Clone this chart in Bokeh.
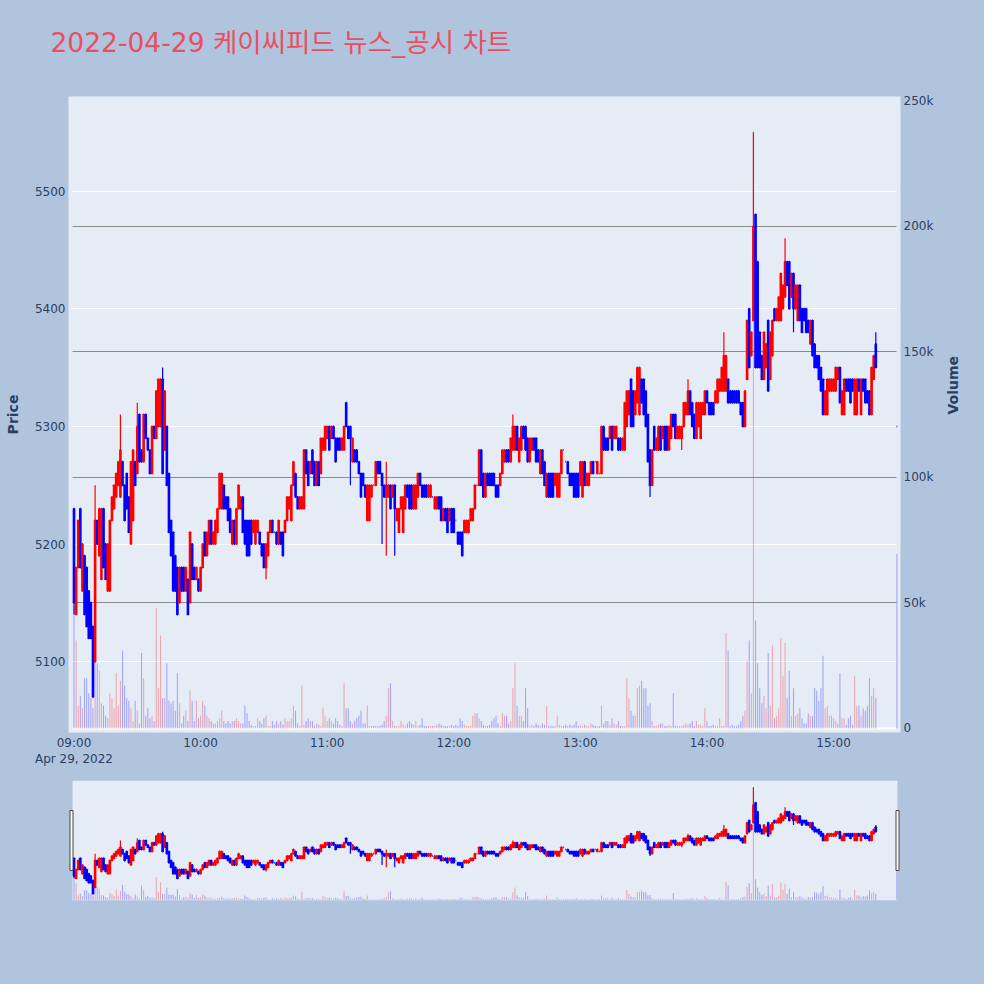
import math
from datetime import datetime, timedelta
from bokeh.plotting import figure
from bokeh.models import (Range1d, LinearAxis, FixedTicker, DatetimeTickFormatter, Title,
                          CustomJSTickFormatter, Grid, BoxAnnotation, ColumnDataSource)
from bokeh.layouts import column
from bokeh.embed import file_html
from bokeh.resources import INLINE

# ---------------- data ----------------
TITLE = "2022-04-29 케이씨피드 뉴스_공시 차트"
SESSION_START = datetime(2022, 4, 29, 9, 0)
CLOSE_AUCTION = datetime(2022, 4, 29, 15, 30)

# one-minute candles 09:00 .. 15:20 (open / close), split in blocks
open_a = [5230,5140,5180,5230,5160,5190,5180,5160,5150,5130, 5100,5220,5190,5170,5230,5200,5160,5160,5220,5230,
          5240,5250,5240,5270,5250,5260,5240,5200,5220,5270, 5260,5310,5280,5270,5310,5290,5280,5260,5300,5290,
          5300,5300,5340,5280,5300,5260,5220,5210,5190,5180, 5150,5180,5180,5160,5170,5150,5200,5180,5170,5170,
          5160,5180,5210,5190]
close_a = [5150,5180,5220,5180,5200,5140,5130,5120,5120,5070, 5220,5200,5230,5230,5180,5170,5200,5220,5240,5250,
           5260,5270,5280,5250,5220,5230,5210,5270,5280,5250, 5300,5270,5270,5310,5290,5280,5260,5300,5290,5330,
           5340,5340,5260,5330,5250,5210,5190,5160,5160,5140, 5180,5160,5160,5180,5140,5210,5170,5170,5180,5160,
           5180,5200,5190,5210]
open_b = [5200,5220,5200,5200,5210,5230,5230,5250,5240,5240, 5230,5200,5220,5200,5230,5230,5240,5220,5220,5220,
          5220,5210,5200,5210,5210,5200,5200,5180,5190,5210, 5220,5210,5210,5200,5210,5210,5210,5220,5230,5220,
          5250,5260,5240,5230,5230,5230,5280,5270,5260,5280, 5270,5250,5270,5260,5280,5280,5290,5300,5290,5300,
          5290,5290,5290,5280,5280,5320]
close_b = [5220,5200,5210,5220,5230,5260,5260,5230,5230,5220, 5210,5220,5200,5230,5250,5240,5210,5200,5190,5190,
           5200,5220,5220,5220,5200,5190,5180,5200,5210,5220, 5210,5210,5200,5220,5200,5190,5220,5240,5240,5250,
           5270,5240,5230,5240,5240,5280,5260,5250,5270,5260, 5250,5270,5250,5290,5290,5300,5300,5280,5300,5290,
           5270,5280,5280,5290,5300,5300]
open_c = [5300,5300,5270,5280,5280,5270,5260,5260,5250,5220, 5220,5240,5250,5250,5270,5270,5260,5250,5240,5240,
          5250,5240,5250,5220,5210,5230,5210,5230,5250,5250, 5250,5230,5230,5240,5260,5250,5250,5250,5240,5240,
          5240,5230,5230,5240,5240,5220,5230,5230,5220,5230, 5230,5220,5210,5210,5210,5210,5210,5210,5220,5220,
          5230,5250,5250,5280,5260,5240]
close_c = [5290,5290,5290,5270,5270,5260,5240,5250,5240,5250, 5250,5250,5250,5270,5260,5260,5250,5240,5250,5250,
           5230,5250,5230,5230,5230,5240,5240,5250,5240,5230, 5230,5250,5250,5260,5250,5240,5240,5240,5250,5250,
           5240,5240,5240,5230,5220,5230,5220,5210,5230,5210, 5210,5220,5200,5200,5190,5220,5220,5220,5230,5230,
           5250,5250,5280,5250,5240,5260]
open_d = [5260,5260,5260,5260,5250,5250,5250,5260,5270,5280, 5280,5270,5280,5280,5300,5270,5280,5300,5300,5290,
          5270,5280,5290,5290,5280,5260,5280,5270,5240,5260, 5260,5260,5250,5240,5240,5260,5280,5270,5270,5260,
          5260,5260,5260,5260,5250,5240,5270,5250,5250,5260, 5270,5270,5260,5260,5260,5300,5290,5290,5290,5300,
          5290,5290,5290,5290,5280,5280,5300]
close_d = [5250,5250,5250,5250,5240,5240,5260,5280,5280,5270, 5270,5290,5300,5300,5280,5290,5300,5290,5280,5270,
           5290,5290,5280,5270,5270,5280,5260,5250,5260,5240, 5240,5240,5260,5260,5260,5280,5280,5270,5260,5250,
           5250,5240,5240,5240,5270,5270,5250,5260,5260,5270, 5260,5270,5270,5260,5300,5280,5280,5280,5300,5280,
           5300,5300,5280,5280,5290,5320,5330]
open_e = [5310,5340,5330,5310,5320,5310,5340,5340,5330,5310, 5280,5250,5300,5280,5280,5300,5290,5300,5300,5280,
          5290,5310,5310,5290,5290,5290,5300,5310,5310,5330, 5320,5310,5290,5300,5290,5310,5310,5330,5320,5320,
          5320,5320,5320,5330,5330,5330,5330,5340,5330,5330, 5330,5330,5330,5320,5320,5300,5340,5400,5360,5390,
          5480,5440,5380,5360,5340,5350,5390]
close_e = [5330,5300,5300,5330,5350,5350,5320,5310,5300,5270, 5250,5280,5280,5290,5300,5280,5300,5280,5280,5300,
           5310,5300,5290,5300,5300,5300,5320,5320,5330,5310, 5300,5290,5320,5320,5320,5320,5330,5320,5310,5310,
           5310,5330,5340,5340,5350,5360,5360,5320,5320,5320, 5320,5320,5320,5310,5300,5330,5390,5350,5380,5470,
           5350,5350,5350,5340,5380,5370,5330]
open_f = [5340,5360,5400,5390,5390,5390,5400,5410,5440,5440, 5410,5430,5400,5390,5420,5400,5400,5400,5390,5370,
          5390,5370,5360,5360,5350,5340,5310,5310,5330,5330, 5330,5330,5340,5350,5310,5310,5340,5340,5340,5340,
          5310,5310,5340,5310,5340,5340,5330,5330,5310,5340, 5370]
close_f = [5380,5390,5390,5400,5410,5430,5420,5440,5420,5400, 5430,5400,5420,5420,5390,5380,5390,5380,5380,5390,
           5360,5350,5350,5340,5330,5310,5330,5340,5340,5340, 5340,5350,5350,5320,5330,5340,5330,5330,5320,5330,
           5340,5340,5330,5340,5330,5320,5320,5310,5350,5360, 5350]
# 15:30 closing auction
auction_price = 5300
auction_volume_k = 69.5

# wick extremes beyond the candle body (minute -> price)
wick_high = {"09:10": 5250, "09:22": 5310, "09:30": 5320, "09:42": 5350, "11:28": 5270,
             "12:28": 5310, "13:51": 5340, "14:08": 5380, "14:22": 5550, "14:37": 5460, "15:20": 5380}
wick_low = {"09:00": 5140, "10:31": 5170, "11:11": 5250, "11:26": 5200, "11:28": 5190,
            "11:32": 5190, "13:33": 5240, "13:48": 5280, "14:41": 5380}

# volume (thousand shares) per minute
volume_a = [49,35,9,13,8,20,20,14,12,8, 27,26,23,10,9,5,4,14,12,8, 22,9,19,31,17,12,11,8,3,11,
            7,2,30,20,5,8,4,5,3,48, 16,37,12,12,26,11,10,11,7,22, 10,2,5,7,3,15,11,3,11,4, 5,11,9,5]
volume_b = [4,3,2,2,3,4,7,3,2,3, 2,3,3,4,3,2,2,9,6,3, 1.5,1,1,4,3,2,4,5,1,1, 3,1.5,3,2,3,1.5,4,3,3,4,
            9,7,2,1,17,1.5,3,4,3,3, 1,2,1.5,1,8,5,3,4,3,2, 4,3,1.5,1,18,8]
volume_c = [8,3,2,3,4,5,7,2,2,9, 1,1,1,1,1,1,1.5,3,5,16, 18,3,1,1,1,3,1.5,1,2,3, 2,1.5,3,1,1.5,4,1,1,1,1,
            1,1,1.5,2,1.5,1,1,1,1,1.5, 1,1.5,1,4,3,1.5,1,1,1,5, 6,6,4,3,1.5,1]
volume_d = [1,1.5,3,4,5,2,1,6,5,5, 2,3,16,26,9,5,5,3,16,8, 1,1.5,1,2,1.5,1,2,1.5,9,1, 1,1,1,5,1.5,1,1,1.5,1,1.5,
            1,1.5,3,1,1.5,1,1.5,1,1,2, 1.5,1,1,1,9,2,3,3,1.5,4, 2,1.5,3,1,1,1,20]
volume_e = [12,7,5,5,16,17,19,16,16,9, 10,3,1,1,1.5,2,2,1,1,1.5, 1,14,1,1,1,1,1.5,2,1.5,2, 3,1,3,1.5,1.5,1,8,3,1,1,
            1.5,1,1,4,1,1,38,31,1,1.5, 1,1,1.5,3,5,7, 27,35,14,238,43,26,16,10,13,8,30]
volume_f = [9,33,4,5,8,36,21,34,12,23, 5,16,5,6,8,4,2,2,6,5, 5,16,15,11,16,29,8,9,5,5, 4,3,2,22,4,4,1.5,4,5,1.5,
            21,9,9,5,8,7,9,20,13,16, 12]

price_ticks = [5100, 5200, 5300, 5400, 5500]
volume_ticks_k = [0, 50, 100, 150, 200, 250]
hour_ticks = ["09:00", "10:00", "11:00", "12:00", "13:00", "14:00", "15:00"]

# ---------------- assemble ----------------
opens = open_a + open_b + open_c + open_d + open_e + open_f + [auction_price]
closes = close_a + close_b + close_c + close_d + close_e + close_f + [auction_price]
vols = volume_a + volume_b + volume_c + volume_d + volume_e + volume_f + [auction_volume_k]
n_min = len(open_a + open_b + open_c + open_d + open_e + open_f)
times = [SESSION_START + timedelta(minutes=i) for i in range(n_min)] + [CLOSE_AUCTION]
labels = [t.strftime("%H:%M") for t in times]
highs = [max(o, c, wick_high.get(l, 0)) for o, c, l in zip(opens, closes, labels)]
lows = [min(o, c, wick_low.get(l, 10 ** 9)) for o, c, l in zip(opens, closes, labels)]
UP, DOWN = "#ff0000", "#0000ff"
colors = [UP if c > o else DOWN for o, c in zip(opens, closes)]

src = ColumnDataSource(dict(x=times, o=opens, c=closes, hi=highs, lo=lows,
                            top=[max(o, c) for o, c in zip(opens, closes)],
                            bot=[min(o, c) for o, c in zip(opens, closes)],
                            vol=vols, color=colors))

# ---------------- geometry / style ----------------
PAGE_BG = "#b0c4de"
PLOT_BG = "#e5ecf6"
TXT = "#2a3f5f"
FONT = "DejaVu Sans"
MIN_MS = 60000.0

def epoch_ms(d):
    return (d - datetime(1970, 1, 1)).total_seconds() * 1000.0

def t_of_px(px):  # canvas x -> datetime (09:00 at x=73.5, 2.11 px per minute)
    return SESSION_START + timedelta(minutes=(px - 73.5) / 2.11)

PRICE_LO, PRICE_HI = 5039.8, 5580.4
VOL_LO, VOL_HI = -1.63, 251.8

x_range = Range1d(t_of_px(68), t_of_px(900))


def draw_series(fig):
    fig.vbar(x="x", width=0.5 * MIN_MS, top="vol", bottom=0, y_range_name="vol",
             fill_color="color", fill_alpha=0.3, line_color=None, source=src)
    fig.segment(x0="x", y0="lo", x1="x", y1="hi", line_color="color", line_width=1.2, source=src)
    fig.vbar(x="x", width=0.3 * MIN_MS, top="top", bottom="bot", fill_color="color",
             line_color="color", line_width=2, source=src)


# ---------------- main chart ----------------
p = figure(width=984, height=772, x_range=x_range, y_range=Range1d(PRICE_LO, PRICE_HI),
           x_axis_type="datetime", output_backend="svg", toolbar_location=None,
           min_border_left=68, min_border_right=84, min_border_top=96, min_border_bottom=40,
           background_fill_color=PLOT_BG, border_fill_color=PAGE_BG, outline_line_color=None)
p.extra_y_ranges = {"vol": Range1d(VOL_LO, VOL_HI)}

# title: a blank spacer next to the frame, then the chart title above it
p.title.text = ""
p.add_layout(Title(text=" ", text_font_size="10px", standoff=21), "above")
p.add_layout(Title(text=TITLE, text_font="'DejaVu Sans', 'Noto Sans CJK KR', sans-serif",
                   text_font_size="26.5px", text_font_style="normal", text_color="#e85060",
                   align="left", vertical_align="bottom", offset=-18, standoff=10), "above")

cross = (epoch_ms(t_of_px(72)), epoch_ms(t_of_px(896)))
p.xgrid.visible = False
p.ygrid.ticker = FixedTicker(ticks=price_ticks)
p.ygrid.grid_line_color = "white"
p.ygrid.grid_line_width = 1
vgrid = Grid(dimension=1, y_range_name="vol", ticker=FixedTicker(ticks=[50, 100, 150, 200]),
             grid_line_color="#8c8c8c", grid_line_width=1)
zgrid = Grid(dimension=1, y_range_name="vol", ticker=FixedTicker(ticks=[0]),
             grid_line_color="white", grid_line_width=2)
p.add_layout(vgrid)
p.add_layout(zgrid)
for g in (p.ygrid[0], vgrid, zgrid):
    try:
        g.cross_bounds = cross
    except Exception:
        pass

draw_series(p)

hour_ms = [epoch_ms(datetime.strptime("2022-04-29 " + h, "%Y-%m-%d %H:%M")) for h in hour_ticks]
p.xaxis.ticker = FixedTicker(ticks=hour_ms)
p.xaxis.formatter = DatetimeTickFormatter(hours="%H:%M", hourmin="%H:%M", minutes="%H:%M",
                                          minsec="%H:%M", context="%b %d, %Y",
                                          context_which="start", context_location="below")
p.yaxis.ticker = FixedTicker(ticks=price_ticks)
p.yaxis.axis_label = "Price"

ax_r = LinearAxis(y_range_name="vol", ticker=FixedTicker(ticks=volume_ticks_k),
                  formatter=CustomJSTickFormatter(code="return tick == 0 ? '0' : tick + 'k';"),
                  axis_label="Volume")
p.add_layout(ax_r, "right")

for ax in (p.xaxis[0], p.yaxis[0], ax_r):
    ax.axis_line_color = None
    ax.major_tick_line_color = None
    ax.minor_tick_line_color = None
    ax.major_tick_out = 0
    ax.major_tick_in = 0
    ax.major_label_standoff = 3
    ax.major_label_text_font = FONT
    ax.major_label_text_font_size = "12px"
    ax.major_label_text_color = TXT
    ax.axis_label_text_font = FONT
    ax.axis_label_text_font_size = "14px"
    ax.axis_label_text_font_style = "bold"
    ax.axis_label_text_color = TXT
p.yaxis[0].axis_label_standoff = 11
ax_r.axis_label_standoff = 17
try:
    ax_r.axis_label_orientation = math.pi / 2
except Exception:
    pass

# ---------------- range slider (overview) ----------------
s = figure(width=984, height=212, x_range=x_range, y_range=Range1d(PRICE_LO, PRICE_HI),
           x_axis_type="datetime", x_axis_location=None, y_axis_location=None,
           output_backend="svg", toolbar_location=None,
           min_border_left=68, min_border_right=84, min_border_top=8, min_border_bottom=84,
           background_fill_color=PAGE_BG, border_fill_color=PAGE_BG, outline_line_color=None)
s.extra_y_ranges = {"vol": Range1d(VOL_LO, VOL_HI)}
s.grid.visible = False
s.add_layout(BoxAnnotation(left=epoch_ms(t_of_px(72)), right=epoch_ms(t_of_px(897)),
                           fill_color=PLOT_BG, fill_alpha=1.0, line_color=None, level="underlay"))
draw_series(s)


def slider_price(py):  # slider frame spans canvas y 780..900
    return PRICE_LO + (900 - py) / 120.0 * (PRICE_HI - PRICE_LO)


s.quad(left=[t_of_px(69.5), t_of_px(895.5)], right=[t_of_px(72.5), t_of_px(898.5)],
       top=slider_price(810), bottom=slider_price(870),
       fill_color="white", line_color="#444444", line_width=1)

layout = column(p, s, spacing=0, styles={"background-color": PAGE_BG})
open("out.html", "w").write(file_html(layout, INLINE))
